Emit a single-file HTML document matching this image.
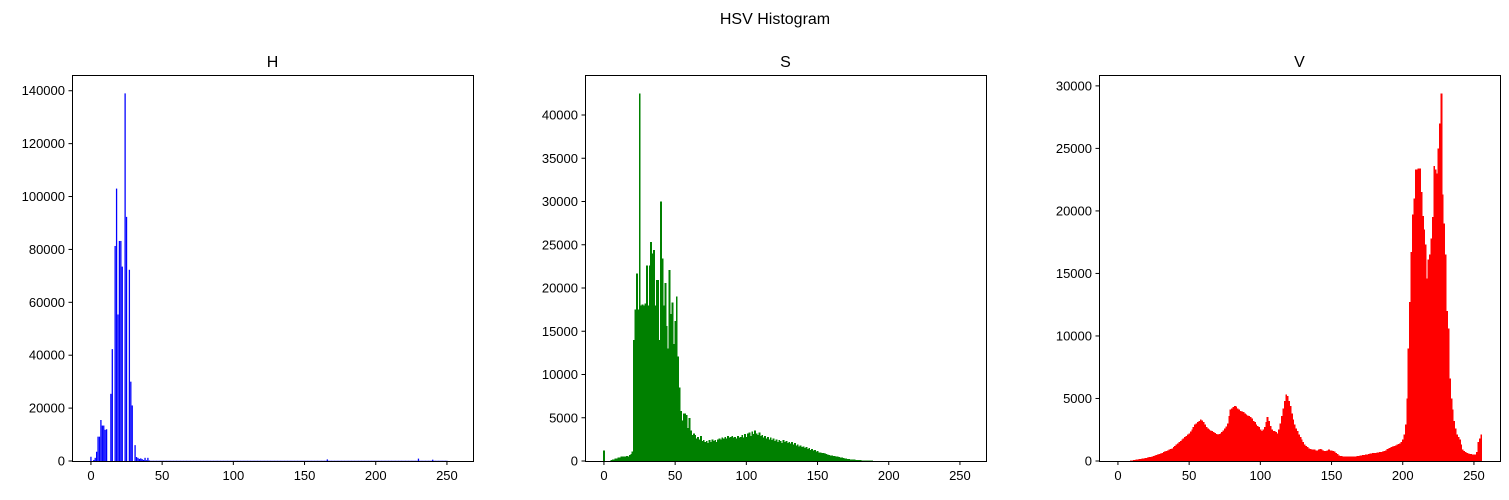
<!DOCTYPE html>
<html><head><meta charset="utf-8"><style>
body{margin:0;background:#fff;}
svg text{font-family:"Liberation Sans","DejaVu Sans",sans-serif;}
</style></head><body>
<svg id="fig" width="1509" height="495" xmlns="http://www.w3.org/2000/svg">
<rect width="1509" height="495" fill="#fff"/>
<text x="775" y="24" text-anchor="middle" font-size="16">HSV Histogram</text>
</svg>
<script>
const categories = Array.from({length:256},(_,i)=>i);
const hValues = [1600,0,400,1200,3500,9200,9200,15500,13400,13400,11800,12000,0,0,25400,42300,0,81300,103000,55400,83200,83200,73500,0,139000,92300,0,72300,30000,21000,0,6000,1500,1200,800,1000,700,400,1200,300,1200,200,100,100,100,100,100,100,100,100,100,100,100,100,100,100,100,100,100,100,100,100,100,100,100,100,100,100,100,100,100,100,100,100,100,100,100,100,100,100,100,100,100,100,100,100,100,100,100,100,100,100,100,100,100,100,100,100,100,100,100,100,100,100,100,100,100,100,100,100,100,100,100,100,100,100,100,100,100,100,100,100,100,100,100,100,100,100,100,100,100,100,100,100,100,100,100,100,100,100,100,100,100,100,100,100,100,100,100,100,100,100,100,100,100,100,100,100,100,100,100,100,100,100,100,100,600,100,100,100,100,100,100,100,100,100,100,100,100,100,100,100,100,100,100,100,100,100,100,100,100,100,100,100,100,100,100,100,100,100,100,100,100,100,100,100,100,100,100,100,100,100,100,100,100,100,100,100,100,100,100,100,100,100,100,100,100,100,100,100,900,100,100,100,100,100,100,100,100,100,500,100,100,100,100,100,100,100,100,100,100];
const sValues = [1200,0,0,0,0,100,150,200,300,300,400,400,500,500,500,500,600,500,700,800,1100,14000,17500,21700,17500,42500,18000,18100,18000,18200,22600,18000,22600,25300,24000,24400,18000,20900,20900,14000,30000,23400,18000,20600,15600,13000,22100,17000,18300,13500,16200,19000,12100,8500,5800,4700,5500,5500,5300,3800,5000,
3500,3000,3200,3000,2600,2800,2500,2900,2300,2400,
2200,2300,2100,2400,2200,2500,2300,2400,2200,2500,
2600,2500,2700,2600,2800,2600,2900,2700,2800,2900,
2700,2800,2600,2900,2700,2800,3000,2700,3100,2800,
3200,3300,2900,3400,3100,3500,3200,3000,3300,2900,
3000,2700,2900,2600,2800,2500,2700,2400,2600,2300,
2500,2200,2400,2300,2100,2400,2200,2300,2100,2200,
2000,2200,1900,2100,1800,1900,1700,1800,1600,1700,
1500,1600,1400,1500,1300,1400,1200,1250,1100,1150,
1000,1000,900,950,850,800,750,700,650,650,
600,550,500,500,450,400,380,350,300,280,
250,230,200,180,160,150,130,120,100,90,
80,70,60,50,45,40,35,30,25,20,
10,10,10,10,10,10,10,10,10,10,
0,0,0,0,0,0,0,0,0,0,0,0,0,0,0,0,0,0,0,0,0,0,0,0,0,0,0,0,0,0,0,0,0,0,0,0,0,0,0,0,0,0,0,0,0,0,0,0,0,0,0,0,0,0,0];
const vValues = [0,0,0,0,0,0,0,0,10,20,
40,60,80,100,120,140,160,180,200,230,
250,270,300,330,360,400,430,470,500,550,
600,650,700,750,800,850,900,950,1000,1100,
1200,1300,1400,1500,1600,1700,1800,1900,2000,2100,
2200,2350,2500,2700,2900,3000,3100,3200,3300,3250,
3100,2900,2700,2600,2500,2450,2400,2300,2250,2150,
2100,2150,2200,2300,2450,2600,2750,3000,3600,4100,
4200,4300,4400,4350,4200,4100,4000,3950,3900,3800,
3700,3650,3600,3500,3400,3200,3100,2900,2800,2700,
2500,2400,2500,2700,3100,3500,3200,2800,2500,2400,
2400,2300,2200,2500,3000,3600,4200,4800,5300,5200,
4800,4400,3800,3300,2900,2600,2400,2100,1900,1700,
1500,1300,1200,1100,1000,950,900,900,900,850,
850,900,950,900,850,800,800,850,900,850,
850,800,750,650,550,450,400,380,370,360,
360,350,350,340,340,350,360,370,380,400,
420,440,460,480,500,520,550,580,600,620,
620,640,660,680,700,720,750,800,850,950,
1000,1050,1100,1150,1200,1250,1300,1350,1400,1500,
1700,2100,2900,5000,9000,12700,16700,19700,21000,23300,
23300,23400,23400,21500,19600,18500,17300,14600,16100,16500,
17800,19500,23600,23300,23000,25000,27000,29400,21300,19000,
16500,12000,10600,6600,5000,4100,3200,2600,2100,1900,
1700,1300,900,800,700,650,600,550,550,500,
500,500,700,1500,1800,2100];
const xTicks = [0,50,100,150,200,250];
const hTicks = [0,20000,40000,60000,80000,100000,120000,140000];
const sTicks = [0,5000,10000,15000,20000,25000,30000,35000,40000];
const vTicks = [0,5000,10000,15000,20000,25000,30000];

const NS='http://www.w3.org/2000/svg';
const svg=document.getElementById('fig');
function mk(tag,attrs,parent){const e=document.createElementNS(NS,tag);for(const k in attrs)e.setAttribute(k,attrs[k]);(parent||svg).appendChild(e);return e;}

function panel(key,title,left,values,ticks,color,barW,pad,render){
  const right=left+401, top=75, bottom=461;
  const xmin=-13.3, xmax=268.3;
  const ymax=Math.max(...values)*1.05;
  const xs=v=>left+(v-xmin)/(xmax-xmin)*(right-left);
  const ys=v=>bottom-v/ymax*(bottom-top);
  const g=mk('g',{});
  
  
  const bars=mk('g',{'shape-rendering':render},g);
  
  
  categories.forEach((c,i)=>{
    const v=values[i]; if(!v) return;
    const x0=xs(c-barW/2), x1=xs(c+barW/2);
    const r=mk('rect',{x:x0,y:ys(v),width:Math.max(x1-x0+pad,0.6),height:bottom-ys(v),fill:color},bars);
    
    
  });
  const fr=mk('rect',{x:left+0.5,y:top+0.5,width:right-left,height:bottom-top,fill:'none',stroke:'#000','stroke-width':1},g);
  
  
  xTicks.forEach(t=>{
    const x=xs(t);
    mk('line',{x1:x,x2:x,y1:bottom+0.5,y2:bottom+4,stroke:'#000'},g);
    const tx=mk('text',{x:x,y:bottom+19,'text-anchor':'middle','font-size':13},g);
    tx.textContent=t;
    
    
  });
  ticks.forEach(t=>{
    const y=ys(t);
    mk('line',{x1:left-3.5,x2:left+0.5,y1:y,y2:y,stroke:'#000'},g);
    const ty=mk('text',{x:left-7,y:y+4.5,'text-anchor':'end','font-size':13},g);
    ty.textContent=t;
    
    
  });
  const tt=mk('text',{x:(left+right)/2,y:67,'text-anchor':'middle','font-size':16},g);
  tt.textContent=title;
  
  
}
panel('h','H',72,hValues,hTicks,'#0000ff',0.9,0,'auto');
panel('s','S',585,sValues,sTicks,'#008000',1,0.4,'crispEdges');
panel('v','V',1099,vValues,vTicks,'#ff0000',1,0.4,'crispEdges');
</script>
</body></html>
